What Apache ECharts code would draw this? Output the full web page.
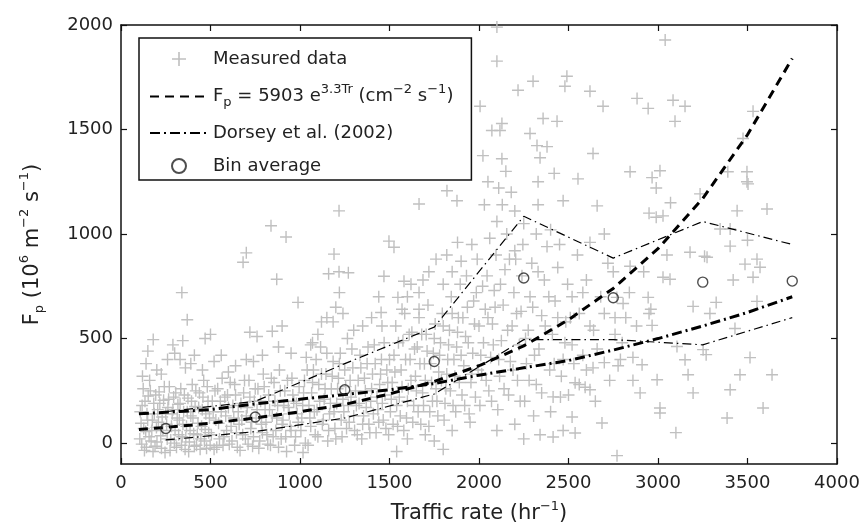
<!DOCTYPE html>
<html>
<head>
<meta charset="utf-8">
<script src="https://cdn.jsdelivr.net/npm/echarts@6/dist/echarts.min.js"></script>
<style>
  html, body { margin: 0; padding: 0; background: #fff; }
  #chart { width: 865px; height: 529px; }
</style>
</head>
<body>
<div id="chart"></div>
<script>
// tick labels
const xTicks = [0, 500, 1000, 1500, 2000, 2500, 3000, 3500, 4000]
const yTicks = [0, 500, 1000, 1500, 2000]

// exponential fit
const fitX = [100, 250, 500, 750, 1000, 1250, 1500, 1750, 2000, 2250, 2500, 2750, 3000, 3250, 3500, 3750]
const fitY = [65, 75, 95, 120, 150, 185, 235, 295, 370, 465, 590, 740, 930, 1170, 1475, 1840]

// Dorsey et al. (2002): middle curve (thick) and the two thin bounds
const dorseyX = [100, 500, 750, 1000, 1250, 1500, 1750, 2000, 2250, 2500, 2750, 3000, 3250, 3500, 3750]
const dorseyY = [140, 160, 188, 210, 232, 255, 285, 325, 360, 395, 445, 500, 560, 625, 700]
const binX = [250, 750, 1250, 1750, 2250, 2750, 3250, 3750]
const dorseyUpper = [150, 200, 380, 555, 1085, 885, 1060, 950]
const dorseyLower = [15, 55, 120, 235, 495, 495, 470, 600]

// bin average
const binAvg = [70, 125, 255, 390, 790, 695, 770, 775]

const measured = [
  // 100 - 500
  [105,20],[112,95],[118,180],[124,260],[131,-35],[138,55],[145,140],[152,225],[160,300],[168,10],
  [175,110],[183,190],[190,-15],[198,75],[205,160],[213,245],[222,35],[230,125],[238,205],[246,-45],
  [255,90],[262,170],[270,270],[278,15],[286,140],[294,220],[302,60],[310,-20],[318,185],[326,110],
  [334,260],[342,30],[350,150],[358,-30],[366,80],[374,215],[382,5],[390,130],[398,280],[406,45],
  [414,175],[422,-10],[430,95],[438,240],[446,20],[454,160],[462,300],[470,65],[478,-25],[486,200],[494,120],
  [180,495],[290,470],[300,430],[330,400],[345,490],[360,360],[140,380],[120,320],[225,330],[390,380],
  [470,500],[500,520],[340,720],[370,590],[410,420],[260,400],[200,350],[455,350],[150,440],
  [108,150],[116,-5],[127,70],[134,200],[142,-20],[149,110],[157,30],[164,250],[172,60],[179,-40],
  [186,140],[194,230],[201,5],[209,100],[217,190],[226,-25],[234,60],[242,270],[250,140],[258,20],
  [266,210],[274,-35],[282,80],[290,160],[298,0],[306,240],[314,120],[322,40],[330,190],[338,-10],
  [346,90],[354,230],[362,25],[370,150],[378,-40],[386,60],[394,200],[402,120],[410,-15],[418,250],
  [426,40],[434,170],[442,-30],[450,80],[458,220],[466,10],[474,140],[482,270],[490,50],[498,-10],
  // 500 - 1000
  [505,40],[515,150],[525,250],[535,-20],[545,95],[555,200],[565,310],[575,30],[585,130],[595,230],
  [605,-5],[615,80],[625,180],[635,280],[645,50],[655,150],[665,-35],[675,110],[685,240],[695,20],
  [705,170],[715,300],[725,70],[735,-15],[745,200],[755,120],[765,260],[775,10],[785,90],[795,330],
  [805,160],[815,40],[825,230],[835,-10],[845,130],[855,290],[865,60],[875,180],[885,350],[895,20],
  [905,110],[915,250],[925,-40],[935,170],[945,80],[955,310],[965,200],[975,30],[985,140],[995,270],
  [520,390],[560,420],[600,340],[640,370],[700,400],[720,530],[760,510],[790,420],[845,535],[880,460],
  [700,910],[682,865],[838,1040],[922,986],[870,784],[989,673],[740,390],[950,430],[1017,-45],[900,560],
  [510,200],[520,-30],[530,110],[540,260],[550,20],[560,150],[570,-10],[580,220],[590,60],[600,170],
  [610,290],[620,10],[630,120],[640,230],[650,-20],[660,90],[670,190],[680,40],[690,300],[700,130],
  [710,-5],[720,220],[730,100],[740,30],[750,260],[760,160],[770,-25],[780,200],[790,50],[800,270],
  [810,100],[820,-5],[830,160],[840,310],[850,30],[860,200],[870,120],[880,-20],[890,250],[900,90],
  [910,180],[920,30],[930,300],[940,140],[950,60],[960,230],[970,-10],[980,190],[990,100],
  // 1000 - 1500
  [1005,60],[1015,180],[1025,300],[1035,410],[1045,-10],[1055,120],[1065,240],[1075,350],[1085,40],[1095,160],
  [1105,280],[1115,460],[1125,90],[1135,210],[1145,330],[1155,10],[1165,140],[1175,260],[1185,390],[1195,70],
  [1205,190],[1215,310],[1225,430],[1235,30],[1245,150],[1255,270],[1265,500],[1275,100],[1285,220],[1295,360],
  [1305,60],[1315,180],[1325,300],[1335,420],[1345,20],[1355,130],[1365,250],[1375,380],[1385,90],[1395,200],
  [1405,330],[1415,470],[1425,50],[1435,160],[1445,280],[1455,400],[1465,110],[1475,230],[1485,350],[1495,40],
  [1070,480],[1120,580],[1150,600],[1185,580],[1200,650],[1220,720],[1240,620],[1160,810],[1190,904],[1218,820],
  [1270,815],[1218,1111],[1060,470],[1300,540],[1350,560],[1400,600],[1458,560],[1453,625],[1469,798],[1497,966],
  [1440,700],[1100,520],
  [1010,120],[1020,240],[1030,0],[1040,350],[1050,180],[1060,80],[1070,290],[1080,150],[1090,400],[1100,30],
  [1110,200],[1120,330],[1130,110],[1140,260],[1150,430],[1160,60],[1170,190],[1180,320],[1190,150],[1200,20],
  [1210,260],[1220,380],[1230,110],[1240,210],[1250,350],[1260,70],[1270,180],[1280,300],[1290,450],[1300,130],
  [1310,250],[1320,40],[1330,190],[1340,360],[1350,90],[1360,310],[1370,170],[1380,460],[1390,50],[1400,260],
  [1410,140],[1420,380],[1430,220],[1440,100],[1450,330],[1460,190],[1470,480],[1480,70],[1490,290],[1500,400],
  // 1500 - 2000
  [1505,150],[1515,290],[1525,420],[1535,560],[1545,80],[1555,220],[1565,350],[1575,490],[1585,620],[1595,120],
  [1605,260],[1615,400],[1625,530],[1635,180],[1645,320],[1655,460],[1665,600],[1675,90],[1685,240],[1695,380],
  [1705,520],[1715,660],[1725,150],[1735,290],[1745,430],[1755,570],[1765,200],[1775,340],[1785,480],[1795,620],
  [1805,110],[1815,260],[1825,400],[1835,540],[1845,700],[1855,180],[1865,320],[1875,460],[1885,600],[1895,760],
  [1905,230],[1915,370],[1925,510],[1935,650],[1945,140],[1955,290],[1965,430],[1975,570],[1985,720],[1995,350],
  [1525,937],[1547,697],[1581,774],[1665,720],[1665,640],[1570,640],[1600,700],[1620,760],[1687,780],[1720,820],
  [1760,880],[1800,760],[1820,900],[1850,820],[1880,960],[1900,870],[1930,800],[1960,950],[1990,880],[1665,1144],
  [1821,1207],[1877,1159],[1540,-40],[1600,20],[1700,40],[1750,10],[1850,60],[1950,100],[1800,-30],
  [1510,210],[1520,90],[1530,340],[1540,180],[1550,480],[1560,130],[1570,270],[1580,60],[1590,400],[1600,200],
  [1610,520],[1620,300],[1630,100],[1640,450],[1650,250],[1660,150],[1670,380],[1680,520],[1690,180],[1700,300],
  [1710,440],[1720,80],[1730,380],[1740,200],[1750,500],[1760,260],[1770,130],[1780,420],[1790,300],[1800,560],
  [1810,190],[1820,330],[1830,470],[1840,250],[1850,620],[1860,400],[1870,150],[1880,530],[1890,290],[1900,420],
  [1910,600],[1920,180],[1940,480],[1960,330],[1970,680],[1980,220],
  // 2000 - 2500
  [2005,180],[2015,330],[2025,480],[2035,640],[2045,800],[2055,250],[2065,410],[2075,570],[2085,730],[2095,900],
  [2105,160],[2115,320],[2125,490],[2135,660],[2145,830],[2155,1000],[2165,230],[2175,390],[2185,560],[2195,720],
  [2205,880],[2215,300],[2225,470],[2235,630],[2245,950],[2255,200],[2265,380],[2275,540],[2285,700],[2295,860],
  [2305,130],[2320,280],[2335,450],[2350,610],[2365,780],[2380,940],[2395,350],[2410,520],[2425,680],[2440,840],
  [2455,220],[2470,400],[2485,580],[2495,760],
  [2100,1990],[2100,1827],[2302,1731],[2491,1755],[2480,1707],[2218,1688],[2006,1611],[2128,1529],[2072,1495],[2117,1495],
  [2285,1481],[2358,1553],[2436,1539],[2324,1423],[2380,1418],[2022,1375],[2128,1360],[2341,1365],[2330,1250],[2050,1250],
  [2110,1220],[2180,1200],[2030,1140],[2130,1140],[2200,1110],[2330,1140],[2470,1159],[2100,1060],[2250,1050],[2400,1020],
  [2060,980],[2200,920],[2320,1000],[2450,950],[2150,1300],[2420,1290],
  [2341,40],[2414,29],[2414,221],[2470,60],[2200,90],[2100,60],[2250,20],
  [2000,560],[2010,420],[2020,750],[2040,300],[2050,600],[2070,200],[2080,470],[2090,650],[2110,400],[2120,760],
  [2140,260],[2160,540],[2170,880],[2190,350],[2210,620],[2230,200],[2240,800],[2260,500],[2280,300],[2300,650],
  [2310,420],[2330,820],[2350,240],[2370,560],[2390,700],[2400,150],[2420,380],[2440,600],[2460,320],[2480,480],
  // 2500 - 3000
  [2520,125],[2537,48],[2537,289],[2593,267],[2620,255],[2637,360],[2687,96],[2700,385],[2777,370],[2771,-60],
  [2520,470],[2560,620],[2600,780],[2640,540],[2680,700],[2720,860],[2760,600],[2800,480],[2840,720],[2880,560],
  [2920,820],[2960,640],[2550,900],[2620,960],[2700,1000],[2553,1264],[2620,1683],[2637,1385],[2660,1135],[2693,1611],
  [2844,1298],[2883,1649],[2945,1601],[2967,1270],[2990,1220],[2950,1100],[2911,375],[2995,303],[2844,846],[2945,697],
  [2770,697],[2805,668],[2950,620],[2967,563],[2990,1080],[2520,700],[2580,420],[2860,410],[2900,240],[2650,200],[2750,820],
  [2500,230],[2510,600],[2530,380],[2560,280],[2580,720],[2600,350],[2620,560],[2660,450],[2700,620],[2730,300],
  [2760,520],[2790,400],[2820,600],[2860,300],
  // 3000 - 3800
  [3040,1928],[3084,1640],[3151,1611],[3095,1539],[3011,1303],[3028,1087],[3070,1150],[3011,168],[3011,144],[3168,327],
  [3151,399],[3196,240],[3106,462],[3252,447],[3269,423],[3028,793],[3067,784],[3196,654],[3325,673],[3290,620],
  [3179,913],[3274,889],[3235,1192],[3347,1024],[3403,942],[3403,1024],[3442,1111],[3609,1120],[3497,1250],[3390,1298],
  [3497,1298],[3503,1240],[3531,1587],[3475,1457],[3553,880],[3486,856],[3531,793],[3420,780],[3570,841],[3553,678],
  [3430,548],[3514,409],[3458,327],[3637,327],[3403,255],[3587,168],[3386,120],[3100,50],[3050,900],[3260,894],[3500,970]
]

const FONT = 'DejaVu Sans'
const PLUS = 'path://M5.3,0h1.4v5.3h5.3v1.4h-5.3v5.3h-1.4v-5.3h-5.3v-1.4h5.3z'

const zip = (xs, ys) => xs.map((x, i) => [x, ys[i]])

const chart = echarts.init(document.getElementById('chart'))

const axisBase = {
  type: 'value',
  axisLine: { show: true, onZero: false, lineStyle: { color: '#111', width: 1.5 } },
  axisTick: { show: true, inside: true, length: 6, lineStyle: { color: '#111', width: 1.2 } },
  splitLine: { show: false }
}

const legendNames = {
  'Measured data': '{t|Measured data}',
  'Fit': '{t|F}{sub|p}{t| = 5903 e}{sup|3.3Tr}{t| (cm}{sup|−2}{t| s}{sup|−1}{t|)}',
  'Dorsey et al. (2002)': '{t|Dorsey et al. (2002)}',
  'Bin average': '{t|Bin average}'
}
// line entries in the legend: no marker, only the line sample
const noMarker = { color: 'rgba(0,0,0,0)', borderColor: 'rgba(0,0,0,0)', borderWidth: 0 }

const option = {
  animation: false,
  backgroundColor: '#fff',
  grid: { left: 121, right: 28, top: 25, bottom: 65 },
  legend: {
    data: [
      'Measured data',
      { name: 'Fit', itemStyle: noMarker },
      { name: 'Dorsey et al. (2002)', itemStyle: noMarker },
      'Bin average'
    ],
    orient: 'vertical',
    left: 139,
    top: 38,
    padding: [12, 18, 5, 10],
    itemWidth: 58,
    itemHeight: 14,
    itemGap: 15,
    backgroundColor: '#fff',
    borderColor: '#111',
    borderWidth: 1.5,
    selectedMode: false,
    formatter: name => legendNames[name],
    textStyle: {
      color: '#222',
      fontFamily: FONT,
      fontSize: 18,
      rich: {
        t: { fontFamily: FONT, fontSize: 18, color: '#222' },
        sup: { fontFamily: FONT, fontSize: 13, color: '#222', padding: [0, 0, 14, 0] },
        sub: { fontFamily: FONT, fontSize: 13, color: '#222', padding: [12, 0, 0, 0] }
      }
    }
  },
  xAxis: [
    Object.assign({}, axisBase, {
      min: 0, max: 4000, interval: 500,
      axisLabel: { color: '#222', fontFamily: FONT, fontSize: 18, margin: 10, formatter: v => String(v) },
      name: '{t|Traffic rate (hr}{sup|−1}{t|)}',
      nameLocation: 'middle',
      nameGap: 36,
      nameTextStyle: {
        rich: {
          t: { fontFamily: FONT, fontSize: 21, color: '#222' },
          sup: { fontFamily: FONT, fontSize: 13, color: '#222', padding: [0, 0, 14, 0] }
        }
      }
    }),
    Object.assign({}, axisBase, {
      position: 'top', min: 0, max: 4000, interval: 500,
      axisLabel: { show: false }
    })
  ],
  yAxis: [
    Object.assign({}, axisBase, {
      min: -100, max: 2000,
      axisTick: Object.assign({}, axisBase.axisTick, { customValues: yTicks }),
      axisLabel: { color: '#222', fontFamily: FONT, fontSize: 18, margin: 8, customValues: yTicks, formatter: v => String(v) },
      name: '{t|F}{sub|p}{t| (10}{sup|6}{t| m}{sup|−2}{t| s}{sup|−1}{t|)}',
      nameLocation: 'middle',
      nameGap: 74,
      nameTextStyle: {
        rich: {
          t: { fontFamily: FONT, fontSize: 21, color: '#222' },
          sup: { fontFamily: FONT, fontSize: 13, color: '#222', padding: [0, 0, 16, 0] },
          sub: { fontFamily: FONT, fontSize: 13, color: '#222', padding: [14, 0, 0, 0] }
        }
      }
    }),
    Object.assign({}, axisBase, {
      position: 'right', min: -100, max: 2000,
      axisTick: Object.assign({}, axisBase.axisTick, { customValues: yTicks }),
      axisLabel: { show: false }
    })
  ],
  series: [
    {
      name: 'Measured data',
      type: 'scatter',
      data: measured,
      symbol: PLUS,
      symbolSize: 12,
      symbolKeepAspect: true,
      itemStyle: { color: '#c0c0c0', opacity: 1 },
      z: 1
    },
    {
      name: 'Fit',
      type: 'line',
      data: zip(fitX, fitY),
      showSymbol: false,
      symbol: 'none',
      lineStyle: { color: '#000', width: 3, type: [9, 6] },
      z: 3
    },
    {
      name: 'Dorsey et al. (2002)',
      type: 'line',
      data: zip(dorseyX, dorseyY),
      symbol: 'none',
      lineStyle: { color: '#000', width: 3, type: [10, 4, 2, 4] },
      z: 3
    },
    {
      name: 'Dorsey upper',
      type: 'line',
      data: zip(binX, dorseyUpper),
      symbol: 'none',
      lineStyle: { color: '#000', width: 1.2, type: [9, 4, 1.5, 4] },
      z: 3
    },
    {
      name: 'Dorsey lower',
      type: 'line',
      data: zip(binX, dorseyLower),
      symbol: 'none',
      lineStyle: { color: '#000', width: 1.2, type: [9, 4, 1.5, 4] },
      z: 3
    },
    {
      name: 'Bin average',
      type: 'scatter',
      data: zip(binX, binAvg),
      symbol: 'circle',
      symbolSize: 10,
      itemStyle: { color: 'rgba(255,255,255,0)', borderColor: '#222', borderWidth: 1.4 },
      z: 4
    }
  ]
}

chart.setOption(option)
</script>
</body>
</html>
